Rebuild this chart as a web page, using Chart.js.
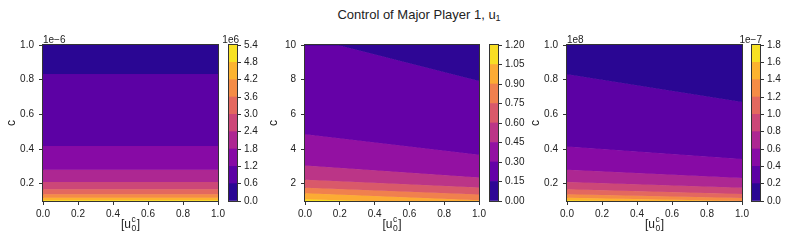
<!DOCTYPE html>
<html>
<head>
<meta charset="utf-8">
<title>Control of Major Player 1</title>
<script src="https://cdn.jsdelivr.net/npm/chart.js@4.4.1/dist/chart.umd.min.js"></script>
<style>
  body { margin: 0; background: #fff; width: 789px; height: 241px; position: relative; overflow: hidden;
         font-family: "Liberation Sans", Arial, sans-serif; }
  canvas { position: absolute; top: 30px; }
  #title { position: absolute; top: 7px; left: 0; width: 838px; text-align: center;
           font-size: 13px; line-height: 16px; color: #222; }
  #title sub { font-size: 9px; vertical-align: -2px; line-height: 0; }
</style>
</head>
<body>
<div id="title">Control of Major Player 1, u<sub>1</sub></div>
<canvas id="c1" width="232" height="211" style="left:0px"></canvas>
<canvas id="cb1" width="55" height="211" style="left:214px"></canvas>
<canvas id="c2" width="231" height="211" style="left:262px"></canvas>
<canvas id="cb2" width="55" height="211" style="left:475px"></canvas>
<canvas id="c3" width="232" height="211" style="left:524px"></canvas>
<canvas id="cb3" width="55" height="211" style="left:737px"></canvas>
<script>
const xs = [0, 1];
const xTicks = [0, 0.2, 0.4, 0.6, 0.8, 1.0];

// panel 1: c in units of 1e-6, u1 in units of 1e6
const levels1 = [0, 0.6, 1.2, 1.8, 2.4, 3.0, 3.6, 4.2, 4.8, 5.4];
const yRange1 = [0.1, 1.0];
const yTicks1 = [0.2, 0.4, 0.6, 0.8, 1.0];
const bounds1Left = [0.833, 0.417, 0.280, 0.210, 0.168, 0.139, 0.119, 0.104];
const bounds1Right = [0.833, 0.417, 0.280, 0.210, 0.168, 0.139, 0.119, 0.104];

// panel 2
const levels2 = [0, 0.15, 0.30, 0.45, 0.60, 0.75, 0.90, 1.05, 1.20];
const yRange2 = [1, 10];
const yTicks2 = [2, 4, 6, 8, 10];
const bounds2Left = [10.48, 4.85, 3.05, 2.22, 1.76, 1.45, 1.10];
const bounds2Right = [7.92, 3.67, 2.36, 1.78, 1.37, 1.04, 0.80];

// panel 3: c in units of 1e8, u1 in units of 1e-7
const levels3 = [0, 0.2, 0.4, 0.6, 0.8, 1.0, 1.2, 1.4, 1.6, 1.8];
const yRange3 = [0.1, 1.0];
const yTicks3 = [0.2, 0.4, 0.6, 0.8, 1.0];
const bounds3Left = [0.831, 0.415, 0.281, 0.210, 0.168, 0.139, 0.119, 0.104];
const bounds3Right = [0.671, 0.343, 0.232, 0.176, 0.141, 0.117, 0.100, 0.087];

const FONT = '"Liberation Sans", Arial, sans-serif';
Chart.defaults.font.family = FONT;
Chart.defaults.font.size = 10;
Chart.defaults.color = '#222';

// plasma colormap, sampled at tenths
const PLASMA = ['#0d0887', '#41049d', '#6a00a8', '#8f0da4', '#b12a90', '#cc4778',
                '#e16462', '#f2844b', '#fca636', '#fcce25', '#f0f921'];
const hexRgb = (h) => [1, 3, 5].map(i => parseInt(h.slice(i, i + 2), 16));
function plasma(t) {
  const p = t * (PLASMA.length - 1);
  const i = Math.min(Math.floor(p), PLASMA.length - 2);
  const f = p - i;
  const a = hexRgb(PLASMA[i]), b = hexRgb(PLASMA[i + 1]);
  const c = a.map((v, k) => Math.round(v + (b[k] - v) * f));
  return `rgb(${c[0]}, ${c[1]}, ${c[2]})`;
}
// band k sits at the middle of its level interval
const bandColors = (levels) => levels.slice(1).map((_, k, arr) => plasma((k + 0.5) / arr.length));

const tickGrid = { drawOnChartArea: false, tickLength: 4, color: '#333' };

function frame(ctx, a) {
  ctx.save();
  ctx.strokeStyle = '#333';
  ctx.lineWidth = 1;
  ctx.strokeRect(Math.round(a.left) - 0.5, Math.round(a.top) - 0.5,
                 Math.round(a.right - a.left) + 1, Math.round(a.bottom - a.top) + 1);
  ctx.restore();
}

// [u_0^c] label with stacked sub/superscript
function xLabel(ctx, cx, base) {
  ctx.save();
  ctx.fillStyle = '#222';
  ctx.textAlign = 'left';
  ctx.textBaseline = 'alphabetic';
  ctx.font = '12px ' + FONT;
  const w1 = ctx.measureText('[u').width;
  const w3 = ctx.measureText(']').width;
  ctx.font = '8.5px ' + FONT;
  const ws = Math.max(ctx.measureText('c').width, ctx.measureText('0').width);
  let x = cx - (w1 + ws + 1 + w3) / 2;
  ctx.font = '12px ' + FONT;
  ctx.fillText('[u', x, base);
  x += w1 + 0.5;
  ctx.font = '8.5px ' + FONT;
  ctx.fillText('c', x, base - 6);
  ctx.fillText('0', x, base + 3);
  x += ws + 0.5;
  ctx.font = '12px ' + FONT;
  ctx.fillText(']', x, base);
  ctx.restore();
}

function contourChart(id, levels, yRange, left, right, yTicks, yDigits, offsetText) {
  const n = levels.length - 1;
  const colors = bandColors(levels);
  const edgesL = [yRange[1], ...left, yRange[0]];
  const edgesR = [yRange[1], ...right, yRange[0]];
  const datasets = edgesL.map((yl, j) => ({
    data: [{ x: xs[0], y: yl }, { x: xs[1], y: edgesR[j] }],
    fill: j < n ? '+1' : false,
    backgroundColor: j < n ? colors[j] : 'rgba(0,0,0,0)',
    borderColor: j < n ? colors[j] : 'rgba(0,0,0,0)',
    borderWidth: j < n ? 1 : 0,
    pointRadius: 0,
    tension: 0,
    clip: 0,
  }));

  const labels = {
    id: 'labels' + id,
    afterDraw(chart) {
      const ctx = chart.ctx, a = chart.chartArea;
      frame(ctx, a);
      xLabel(ctx, (a.left + a.right) / 2, 198);
      ctx.save();
      ctx.fillStyle = '#222';
      ctx.font = '12px ' + FONT;
      ctx.translate(a.left - 31, (a.top + a.bottom) / 2);
      ctx.rotate(-Math.PI / 2);
      ctx.textAlign = 'center';
      ctx.textBaseline = 'middle';
      ctx.fillText('c', 0, 0);
      ctx.restore();
      if (offsetText) {
        ctx.save();
        ctx.fillStyle = '#222';
        ctx.font = '10px ' + FONT;
        ctx.textAlign = 'left';
        ctx.textBaseline = 'alphabetic';
        ctx.fillText(offsetText, a.left, a.top - 2);
        ctx.restore();
      }
    }
  };

  new Chart(document.getElementById(id), {
    type: 'line',
    data: { datasets },
    options: {
      responsive: false,
      animation: false,
      events: [],
      layout: { padding: { top: 15, right: 14, left: 0, bottom: 0 } },
      plugins: { legend: { display: false }, tooltip: { enabled: false } },
      scales: {
        x: {
          type: 'linear', min: 0, max: 1,
          afterBuildTicks: (s) => { s.ticks = xTicks.map(v => ({ value: v })); },
          afterFit: (s) => { s.height = 40; s.paddingLeft = 0; s.paddingRight = 0; },
          ticks: { callback: (v) => v.toFixed(1), padding: 3, maxRotation: 0, autoSkip: false },
          grid: tickGrid,
          border: { color: '#333' },
        },
        y: {
          type: 'linear', min: yRange[0], max: yRange[1],
          afterBuildTicks: (s) => { s.ticks = yTicks.map(v => ({ value: v })); },
          afterFit: (s) => { s.width = 43; s.paddingTop = 0; s.paddingBottom = 0; },
          ticks: { callback: (v) => v.toFixed(yDigits), padding: 5, autoSkip: false },
          grid: tickGrid,
          border: { color: '#333' },
        },
      },
    },
    plugins: [labels],
  });
}

function colorbar(id, levels, digits, offsetText) {
  const colors = bandColors(levels);
  const datasets = colors.map((c, k) => ({
    data: [[levels[k], levels[k + 1]]],
    backgroundColor: c,
    borderWidth: 0,
    barPercentage: 1,
    categoryPercentage: 1,
    grouped: false,
  }));
  const deco = {
    id: 'cb' + id,
    afterDraw(chart) {
      const ctx = chart.ctx, a = chart.chartArea;
      frame(ctx, a);
      if (offsetText) {
        ctx.save();
        ctx.fillStyle = '#222';
        ctx.font = '10px ' + FONT;
        ctx.textAlign = 'right';
        ctx.textBaseline = 'alphabetic';
        ctx.fillText(offsetText, a.right + 2, a.top - 2);
        ctx.restore();
      }
    }
  };
  new Chart(document.getElementById(id), {
    type: 'bar',
    data: { labels: [''], datasets },
    options: {
      responsive: false,
      animation: false,
      events: [],
      layout: { padding: { top: 15, bottom: 40, left: 15, right: 0 } },
      plugins: { legend: { display: false }, tooltip: { enabled: false } },
      scales: {
        x: { display: false },
        y: {
          position: 'right', min: levels[0], max: levels[levels.length - 1],
          afterBuildTicks: (s) => { s.ticks = levels.map(v => ({ value: v })); },
          afterFit: (s) => { s.width = 32; s.paddingTop = 0; s.paddingBottom = 0; },
          ticks: { callback: (v) => v.toFixed(digits), padding: 3, autoSkip: false },
          grid: tickGrid,
          border: { color: '#333' },
        },
      },
    },
    plugins: [deco],
  });
}

contourChart('c1', levels1, yRange1, bounds1Left, bounds1Right, yTicks1, 1, '1e\u22126');
colorbar('cb1', levels1, 1, '1e6');
contourChart('c2', levels2, yRange2, bounds2Left, bounds2Right, yTicks2, 0, '');
colorbar('cb2', levels2, 2, '');
contourChart('c3', levels3, yRange3, bounds3Left, bounds3Right, yTicks3, 1, '1e8');
colorbar('cb3', levels3, 1, '1e\u22127');
</script>
</body>
</html>
